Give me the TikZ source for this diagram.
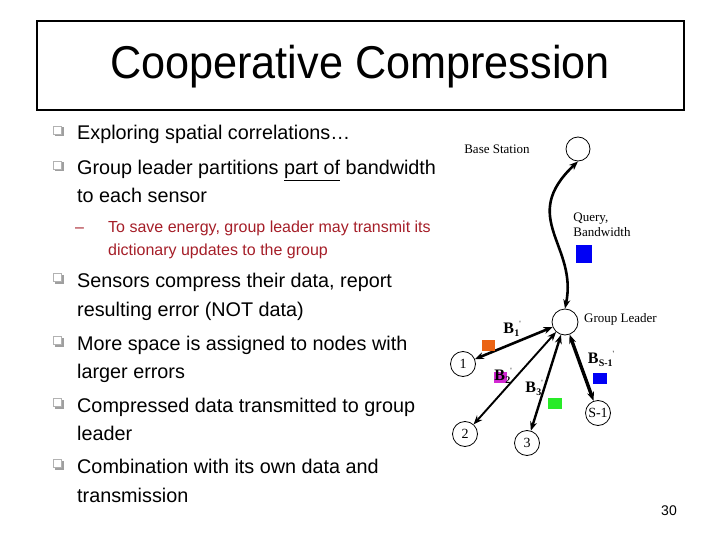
\documentclass[tikz,border=0pt]{standalone}
\usepackage{fontspec}
\setmainfont{Liberation Sans}
\newfontfamily\tms{Liberation Serif}
\usetikzlibrary{arrows.meta}
\definecolor{subred}{RGB}{165,30,40}
\definecolor{sqorange}{RGB}{235,100,20}
\definecolor{sqmagenta}{RGB}{210,40,210}
\definecolor{sqgreen}{RGB}{40,235,40}
\definecolor{sqblue}{RGB}{0,0,245}
\newcommand\bsub[1]{B\kern0.3pt\raisebox{-3pt}{\fontsize{10}{10}\selectfont #1}\raisebox{7pt}{\fontsize{8}{8}\selectfont\mdseries '}}
\begin{document}
\begin{tikzpicture}[x=1pt,y=-1pt,
  bul/.style={anchor=base west, inner sep=0pt, font=\fontsize{19.8}{23}\selectfont},
  sub/.style={anchor=base west, inner sep=0pt, font=\fontsize{16}{18}\selectfont, text=subred},
  sensor/.style={circle, draw, line width=0.8pt, minimum size=25pt, inner sep=0pt, font=\tms\fontsize{14}{16}\selectfont},
  lbl/.style={font=\tms\fontsize{13}{15}\selectfont, inner sep=0pt, align=left},
  blbl/.style={font=\tms\bfseries\fontsize{16}{17}\selectfont, inner sep=0pt},
  link/.style={{Stealth[length=9pt,width=7pt]}-{Stealth[length=9pt,width=7pt]}, line width=#1},
  sq/.style={inner sep=0pt, minimum width=13pt, minimum height=11pt, fill=#1},
  bbox/.style={draw=gray!60, fill=white, line width=0.7pt}
]
\useasboundingbox (0,0) rectangle (720,540);
% title
\draw[line width=1.2pt] (37,21) rectangle (684,110);
\node[inner sep=0pt, font=\fontsize{46}{52}\selectfont] (title) at (360,67) {\scalebox{0.94}[1]{Cooperative Compression}};
% bullet boxes
\foreach \yy in {131,166,278,341,403,464} {
  \fill[gray!75] (54.5,\yy-3.5) rectangle (63.5,\yy+5.5);
  \draw[bbox] (53,\yy-5) rectangle (61.5,\yy+3.5);
}
% bullet texts
\node[bul] (b1) at (77,140) {Exploring spatial correlations\ldots};
\node[bul] (b2a) at (77,175) {Group leader partitions \underline{part of} bandwidth};
\node[bul] (b2b) at (77,203) {to each sensor};
\node[sub] (dash) at (75,233) {--};
\node[sub] (s1) at (108,233) {To save energy, group leader may transmit its};
\node[sub] (s2) at (108,255) {dictionary updates to the group};
\node[bul] (b3a) at (77,287) {Sensors compress their data, report};
\node[bul] (b3b) at (77,316) {resulting error (NOT data)};
\node[bul] (b4a) at (77,350) {More space is assigned to nodes with};
\node[bul] (b4b) at (77,378) {larger errors};
\node[bul] (b5a) at (77,412) {Compressed data transmitted to group};
\node[bul] (b5b) at (77,440) {leader};
\node[bul] (b6a) at (77,473) {Combination with its own data and};
\node[bul] (b6b) at (77,502) {transmission};
\node[inner sep=0pt, font=\fontsize{14}{16}\selectfont] (page) at (669,511) {30};
% diagram
\node[sensor, minimum size=24pt] (bs) at (578,149) {};
\node[lbl] (bslbl) at (497,149) {Base Station};
\node[sensor, minimum size=26pt] (gl) at (565,322) {};
\node[lbl, anchor=west] (gllbl) at (584,319) {Group Leader};
\node[sensor] (n1) at (463,364) {1};
\node[sensor] (n2) at (465,434) {2};
\node[sensor] (n3) at (527,443) {3};
\node[sensor] (ns) at (598,413) {S-1};
\node[lbl, align=left] (q) at (602,225) {Query,\\Bandwidth};
\node[sq=sqblue, minimum width=16pt, minimum height=18pt] (qsq) at (584,254) {};
\draw[link=2.6pt] (gl.north) .. controls (578,245) and (518,218) .. (bs.south);
\draw[link=2.6pt] (gl) -- (n1);
\draw[link=1.9pt] (gl) -- (n2);
\draw[link=2.4pt] (gl) -- (n3);
\draw[link=3.4pt] (gl) -- (ns);
\node[sq=sqorange] (o1) at (488,345) {};
\node[sq=sqmagenta] (m2) at (500,377) {};
\node[sq=sqgreen, minimum width=14pt] (g3) at (555,403) {};
\node[sq=sqblue, minimum width=14pt] (b4) at (600,378) {};
\node[blbl] (lb1) at (512,329) {\bsub{1}};
\node[blbl] (lb2) at (503,376) {\bsub{2}};
\node[blbl] (lb3) at (534,388) {\bsub{3}};
\node[blbl] (lbs) at (601,359) {\bsub{S-1}};
\end{tikzpicture}
\end{document}
